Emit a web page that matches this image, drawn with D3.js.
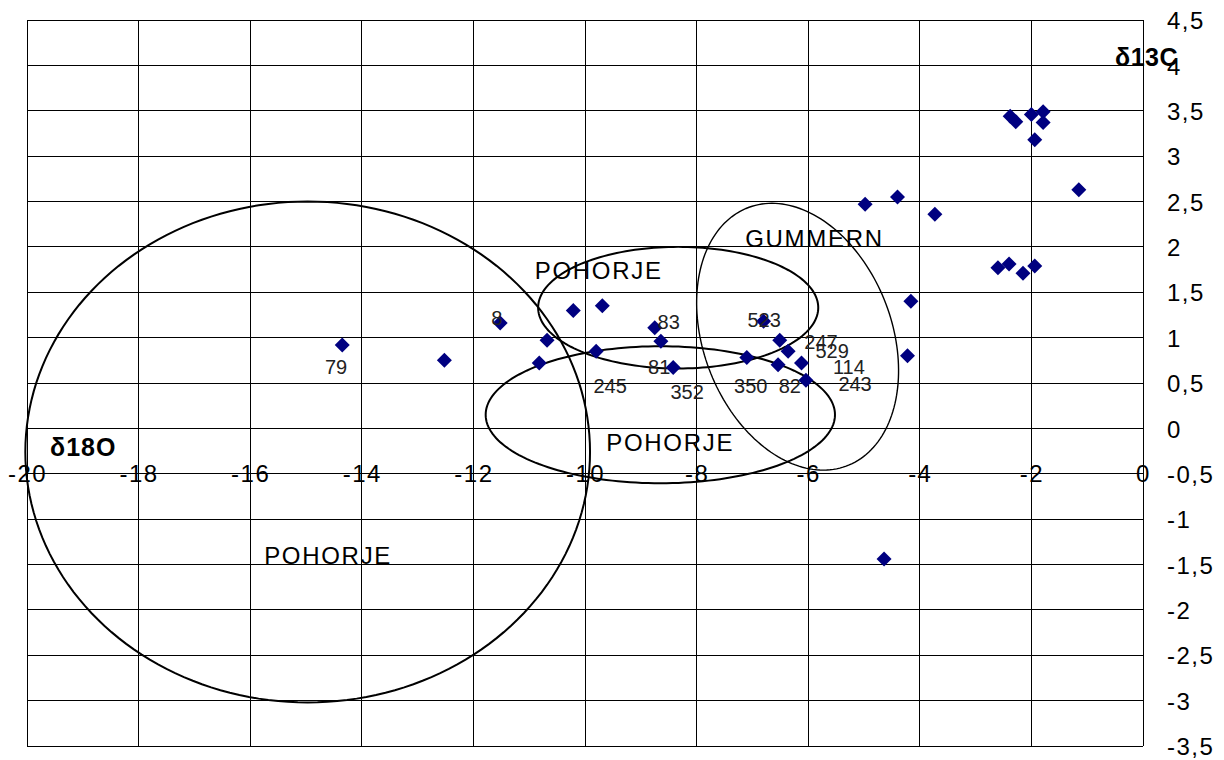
<!DOCTYPE html>
<html>
<head>
<meta charset="utf-8">
<script src="https://cdn.jsdelivr.net/npm/d3@7"></script>
<style>
  html, body { margin: 0; padding: 0; background: #fff; }
  svg text { font-family: "Liberation Sans", Arial, sans-serif; }
</style>
</head>
<body>
<script>
// Isotope measurements: δ18O (x) and δ13C (y), ‰
const deltaO18 = [-14.35, -12.52, -11.52, -10.68, -10.82, -10.21, -9.69, -9.80, -8.75, -8.64,
                  -8.42, -6.80, -6.51, -6.36, -7.10, -6.54, -6.12, -6.04, -4.16, -4.22,
                  -4.98, -4.40, -3.73, -4.64, -2.60, -2.40, -2.15, -1.94, -1.15, -2.38,
                  -2.28, -2.00, -1.79, -1.79, -1.94];
const deltaC13 = [0.92, 0.75, 1.16, 0.97, 0.72, 1.30, 1.35, 0.85, 1.11, 0.96,
                  0.67, 1.18, 0.97, 0.85, 0.78, 0.70, 0.72, 0.53, 1.40, 0.80,
                  2.47, 2.55, 2.36, -1.44, 1.77, 1.81, 1.71, 1.79, 2.63, 3.44,
                  3.38, 3.46, 3.49, 3.37, 3.18];

// Sample numbers written beside the points (placed in data units)
const sampleIds    = ["79", "8", "83", "81", "245", "352", "523", "247", "529", "114", "243", "350", "82"];
const sampleLabelX = [-14.46, -11.58, -8.50, -8.67, -9.55, -8.17, -6.79, -5.77, -5.57, -5.27, -5.16, -7.03, -6.33];
const sampleLabelY = [0.676, 1.216, 1.172, 0.676, 0.467, 0.401, 1.194, 0.952, 0.853, 0.676, 0.489, 0.467, 0.467];

// Reference fields of the marble provenances (ellipses in data units)
const fieldNames  = ["POHORJE", "POHORJE", "POHORJE", "GUMMERN"];
const fieldCx     = [-14.97, -8.33, -8.65, -6.19];
const fieldCy     = [-0.26, 1.33, 0.15, 1.01];
const fieldRx     = [5.06, 2.51, 3.13, 1.75];
const fieldRy     = [2.76, 0.67, 0.755, 1.47];
const fieldShear  = [0, 0, 0, 0.46];
const fieldLabelX = [-15.75, -10.90, -9.62, -7.13];
const fieldLabelY = [-1.494, 1.646, -0.249, 2.00];

// Axis ticks
const xTickValues = [-20, -18, -16, -14, -12, -10, -8, -6, -4, -2, 0];
const yTickValues = [4.5, 4, 3.5, 3, 2.5, 2, 1.5, 1, 0.5, 0, -0.5, -1, -1.5, -2, -2.5, -3, -3.5];
const xAxisTitle = "δ18O";
const yAxisTitle = "δ13C";

const W = 1224, H = 760;
const svg = d3.select("body").append("svg").attr("width", W).attr("height", H);

const x = d3.scaleLinear().domain([-20, 0]).range([27, 1143]);
const y = d3.scaleLinear().domain([-3.5, 4.5]).range([746, 20]);

// Grid
const grid = svg.append("g").attr("stroke", "#000").attr("stroke-width", 1).attr("shape-rendering", "crispEdges");
grid.selectAll("line.v").data(xTickValues).join("line")
  .attr("x1", d => x(d)).attr("x2", d => x(d))
  .attr("y1", y(4.5)).attr("y2", y(-3.5));
grid.selectAll("line.h").data(yTickValues).join("line")
  .attr("y1", d => y(d)).attr("y2", d => y(d))
  .attr("x1", x(-20)).attr("x2", x(0));

// Provenance ellipses
const ellipseLine = d3.line().x(p => x(p[0])).y(p => y(p[1])).curve(d3.curveLinearClosed);
const steps = d3.range(0, 360, 2).map(a => a * Math.PI / 180);
svg.append("g").selectAll("path").data(fieldNames.map((n, i) => i)).join("path")
  .attr("fill", "none")
  .attr("stroke", "#000")
  .attr("stroke-width", i => fieldNames[i] === "GUMMERN" ? 1.4 : 2)
  .attr("d", i => ellipseLine(steps.map(t => [
    fieldCx[i] + fieldRx[i] * Math.cos(t) - fieldShear[i] * Math.sin(t),
    fieldCy[i] + fieldRy[i] * Math.sin(t)
  ])));

// Axes (labels only; the grid carries the lines)
const fmt = d => String(d).replace(".", ",");
const xAxis = svg.append("g").attr("transform", `translate(0,${y(-0.5)})`)
  .call(d3.axisBottom(x).tickValues(xTickValues).tickSize(0).tickFormat(fmt));
xAxis.select(".domain").remove();
xAxis.selectAll("text")
  .attr("y", 0).attr("dy", "0.36em")
  .attr("font-size", 24).attr("letter-spacing", 1.5)
  .attr("font-family", "Liberation Sans, Arial, sans-serif")
  .attr("fill", "#000");

const yAxis = svg.append("g").attr("transform", `translate(${x(0)},0)`)
  .call(d3.axisRight(y).tickValues(yTickValues).tickSize(0).tickPadding(24).tickFormat(fmt));
yAxis.select(".domain").remove();
yAxis.selectAll("text")
  .attr("dy", "0.36em")
  .attr("font-size", 24).attr("letter-spacing", 1.5)
  .attr("font-family", "Liberation Sans, Arial, sans-serif")
  .attr("fill", "#000");

// Axis titles
svg.append("text").attr("x", x(-20) + 23).attr("y", y(-0.5) - 18)
  .attr("font-size", 25).attr("font-weight", "bold").attr("letter-spacing", 1).text(xAxisTitle);
svg.append("text").attr("x", x(0) - 28).attr("y", y(4) + 1)
  .attr("font-size", 25).attr("font-weight", "bold").attr("letter-spacing", 0.5).text(yAxisTitle);

// Field names
svg.append("g").selectAll("text").data(fieldNames).join("text")
  .attr("x", (d, i) => x(fieldLabelX[i]))
  .attr("y", (d, i) => y(fieldLabelY[i]))
  .attr("font-size", 24).attr("letter-spacing", 1.7)
  .attr("fill", "#000")
  .text(d => d);

// Data points (diamonds)
const diamond = "M0,-7.5L7.5,0L0,7.5L-7.5,0Z";
svg.append("g").selectAll("path").data(deltaO18.map((v, i) => i)).join("path")
  .attr("d", diamond)
  .attr("transform", i => `translate(${x(deltaO18[i])},${y(deltaC13[i])})`)
  .attr("fill", "#000080");

// Sample numbers
svg.append("g").selectAll("text").data(sampleIds).join("text")
  .attr("x", (d, i) => x(sampleLabelX[i]))
  .attr("y", (d, i) => y(sampleLabelY[i]))
  .attr("dy", "0.36em")
  .attr("text-anchor", "middle")
  .attr("font-size", 20)
  .attr("fill", "#222")
  .text(d => d);
</script>
</body>
</html>
